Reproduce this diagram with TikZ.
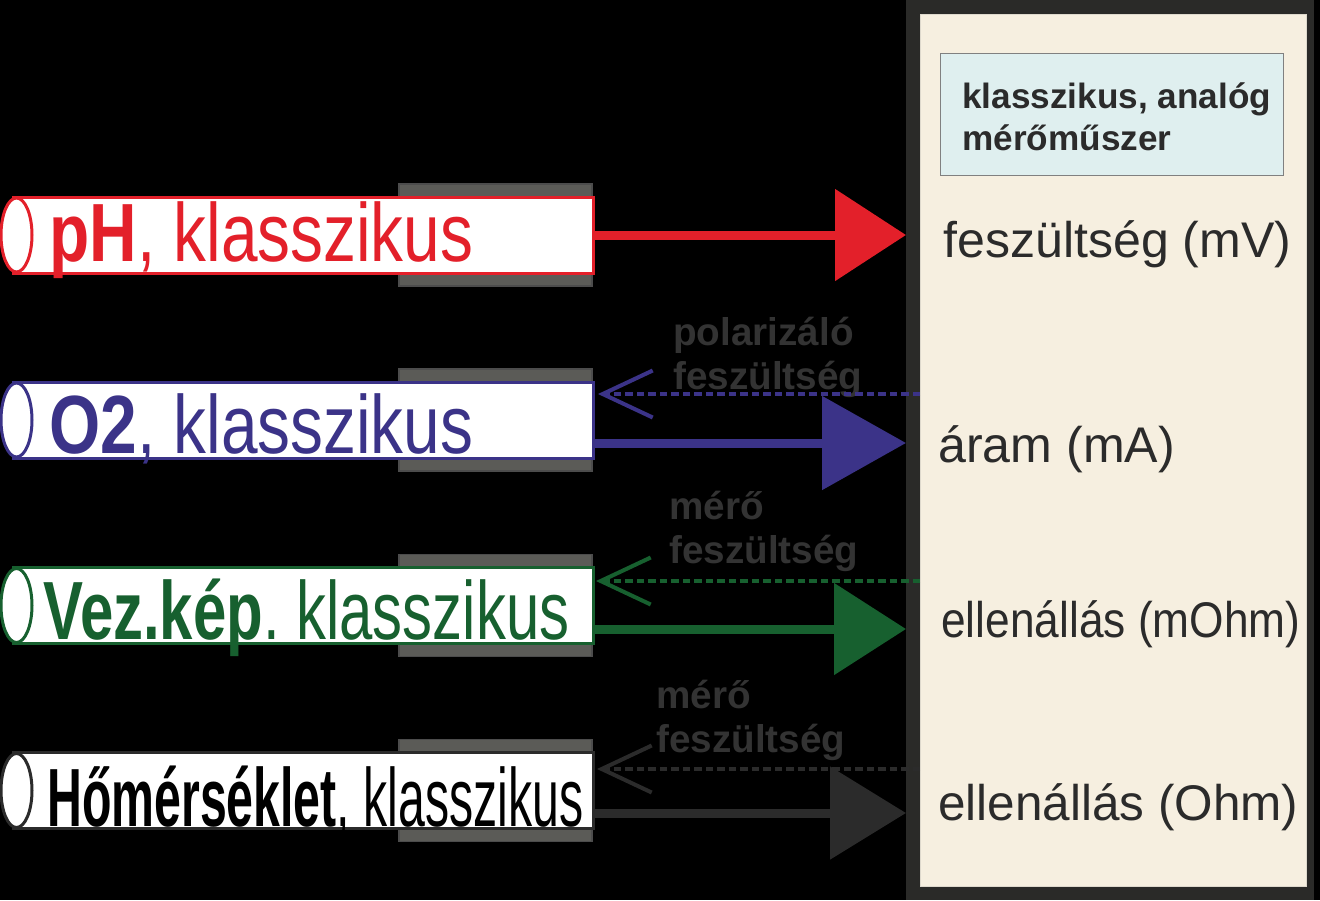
\documentclass[tikz,border=0pt]{standalone}
\usepackage{fontspec}
\setmainfont{Liberation Sans}
\usetikzlibrary{arrows.meta,shapes.geometric}
\definecolor{phred}{HTML}{E3202A}
\definecolor{oxblue}{HTML}{3B3388}
\definecolor{vezgreen}{HTML}{17602F}
\definecolor{homdark}{HTML}{2B2B2B}
\definecolor{labelgray}{HTML}{333333}
\definecolor{framegray}{HTML}{2A2A28}
\definecolor{panelbeige}{HTML}{F6EFE0}
\definecolor{titlecyan}{HTML}{DFEFEF}
\definecolor{pluggray}{HTML}{5B5B57}
\frenchspacing
\tikzset{
	tube/.style={draw=#1, fill=white, line width=0.6mm, minimum width=115.8mm, minimum height=15.2mm, inner sep=0pt},
	tubeend/.style={ellipse, draw=#1, fill=white, line width=0.6mm, minimum width=6.2mm, minimum height=14.8mm, inner sep=0pt},
	plug/.style={draw=black!70, fill=pluggray, line width=0.3mm, minimum width=38.6mm, minimum height=20.4mm, inner sep=0pt},
	tubetext/.style={text=#1, inner sep=0pt, anchor=base west, font=\fontsize{47}{50}\selectfont},
	sig/.style={draw=#1, fill=#1, line width=1.8mm, -{Triangle[length=15mm,width=18mm]}},
	probe/.style={draw=#1, line width=0.8mm, dash pattern=on 1.5mm off 0.8mm, -{Straight Barb[length=10mm,width=9.4mm]}},
	readout/.style={text=homdark, inner sep=0pt, anchor=base west, font=\fontsize{28.5}{32}\selectfont},
	note/.style={text=labelgray, inner sep=0pt, anchor=base west, align=left, font=\fontsize{22}{25}\selectfont\bfseries},
}
\begin{document}
\begin{tikzpicture}[x=0.2mm, y=-0.2mm]
	\fill[black] (0,0) rectangle (1320,900) ;
	\useasboundingbox (0,0) rectangle (1320,900) ;
	% measuring instrument
	\node (meter)[fill=framegray, minimum width=81.6mm, minimum height=180mm, inner sep=0pt, anchor=north west] at (906,0) {} ;
	\node (panel)[fill=panelbeige, draw=panelbeige!80!gray, line width=0.2mm, minimum width=77.2mm, minimum height=174.4mm, inner sep=0pt, anchor=north west] at (920,14) {} ;
	\node (title)[fill=titlecyan, draw=gray, line width=0.2mm, minimum width=68.6mm, minimum height=24.4mm, inner sep=0pt, anchor=north west] at (940,53) {} ;
	% base of a two-line node is its last line
	\node (titletext)[anchor=base west, align=left, inner sep=0pt, text=homdark, font=\fontsize{20}{23.9}\selectfont\bfseries] at (962,150) {klasszikus, analóg\\mérőműszer} ;
	\node (mv)[readout] at (943,257) {feszültség (mV)} ;
	\node (ma)[readout] at (938,462) {áram (mA)} ;
	\node (mohm)[readout] at (941,637) {\resizebox{71.8mm}{\height}{ellenállás (mOhm)}} ;
	\node (ohm)[readout] at (938,820) {\resizebox{72mm}{\height}{ellenállás (Ohm)}} ;
	% pH
	\node (phplug)[plug] at (495.5,235) {} ;
	\node (phtube)[tube=phred] at (303.5,235) {} ;
	\node (phend)[tubeend=phred] at (16.5,235) {} ;
	\node (phlabel)[tubetext=phred] at (49,261) {\resizebox{84.8mm}{\height}{\textbf{pH}, klasszikus}} ;
	\draw[sig=phred, -{Triangle[length=14.2mm,width=18mm]}] (phtube.east) -- (phtube.east -| meter.west) ;
	% O2
	\node (oxplug)[plug] at (495.5,420) {} ;
	\node (oxtube)[tube=oxblue] at (303.5,420) {} ;
	\node (oxend)[tubeend=oxblue] at (16.5,420) {} ;
	\node (oxlabel)[tubetext=oxblue] at (49,453) {\resizebox{84.8mm}{\height}{\textbf{O2}, klasszikus}} ;
	\coordinate (oxin) at (598,394) ;
	\coordinate (oxout) at (593,443) ;
	\node (oxnote)[note] at (673,389) {polarizáló\\feszültség} ;
	\draw[probe=oxblue] (oxin -| panel.west) -- (oxin) ;
	\draw[sig=oxblue, -{Triangle[length=16.8mm,width=18.4mm]}] (oxout) -- (oxout -| meter.west) ;
	% Vez.kep
	\node (vezplug)[plug] at (495.5,605.5) {} ;
	\node (veztube)[tube=vezgreen] at (303.5,605.5) {} ;
	\node (vezend)[tubeend=vezgreen] at (16.5,605.5) {} ;
	\node (vezlabel)[tubetext=vezgreen] at (43,639) {\resizebox{105.2mm}{\height}{\textbf{Vez.kép}. klasszikus}} ;
	\coordinate (vezin) at (596,581) ;
	\coordinate (vezout) at (593,629) ;
	\node (veznote)[note] at (669,563) {mérő\\feszültség} ;
	\draw[probe=vezgreen] (vezin -| panel.west) -- (vezin) ;
	\draw[sig=vezgreen, -{Triangle[length=14.4mm,width=18mm]}] (vezout) -- (vezout -| meter.west) ;
	% homerseklet
	\node (homplug)[plug] at (495.5,790.5) {} ;
	\node (homtube)[tube=homdark] at (303.5,790.5) {} ;
	\node (homend)[tubeend=homdark] at (16.5,790.5) {} ;
	\node (homlabel)[tubetext=black] at (47,826) {\resizebox{107.2mm}{\height}{\textbf{Hőmérséklet}, klasszikus}} ;
	\coordinate (homin) at (597,769) ;
	\coordinate (homout) at (593,813) ;
	\node (homnote)[note] at (656,752) {mérő\\feszültség} ;
	\draw[probe=homdark] (homin -| panel.west) -- (homin) ;
	\draw[sig=homdark, -{Triangle[length=15.2mm,width=18.2mm]}] (homout) -- (homout -| meter.west) ;
\end{tikzpicture}
\end{document}
